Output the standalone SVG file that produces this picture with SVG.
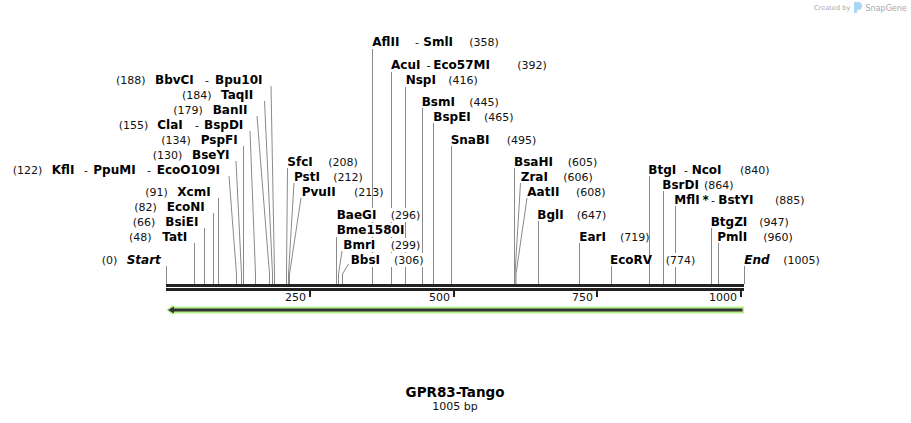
<svg xmlns="http://www.w3.org/2000/svg" width="911" height="423" viewBox="0 0 911 423">
<style>
.n{font-family:"DejaVu Sans",Verdana,sans-serif;font-size:11px;fill:#111}
.b{font-family:"DejaVu Sans",Verdana,sans-serif;font-size:12px;font-weight:bold;fill:#000}
.bi{font-family:"DejaVu Sans",Verdana,sans-serif;font-size:12px;font-weight:bold;font-style:italic;fill:#000}
.l{stroke:#8a8a8a;stroke-width:1;fill:none}
.bg{fill:#fff}
.wm{font-family:"DejaVu Sans",sans-serif;fill:#a8a8a8}
</style>
<rect width="911" height="423" fill="#fff"/>
<g id="watermark">
<text class="wm" x="814" y="9.5" font-size="6.6">Created by</text>
<path d="M854,2 h4 a4,4 0 0 1 4,4 v0 a4,4 0 0 1 -4,4 h-1 v3 h-3 z" fill="#a9d6f2"/>
<text class="wm" x="865.5" y="10.5" font-size="8">SnapGene</text>
</g>
<g id="connectors">
<line class="l" x1="166.5" y1="266" x2="166.5" y2="284"/>
<line class="l" x1="194.5" y1="243" x2="194.5" y2="284"/>
<line class="l" x1="204.5" y1="228" x2="204.5" y2="284"/>
<line class="l" x1="213.5" y1="213" x2="213.5" y2="284"/>
<line class="l" x1="218.5" y1="198" x2="218.5" y2="284"/>
<polyline class="l" points="229,176 236.5,274 236.5,284"/>
<polyline class="l" points="236,161 241.5,274 241.5,284"/>
<line class="l" x1="243.5" y1="146" x2="243.5" y2="284"/>
<polyline class="l" points="250,131 255.5,274 255.5,284"/>
<polyline class="l" points="257,116 269.5,274 269.5,284"/>
<polyline class="l" points="264.5,101 272.5,274 272.5,284"/>
<polyline class="l" points="271,86 274.5,274 274.5,284"/>
<polyline class="l" points="287.5,168 286.5,274 286.5,284"/>
<polyline class="l" points="294,183 288.5,274 288.5,284"/>
<polyline class="l" points="301,198 289.5,274 289.5,284"/>
<line class="l" x1="336.5" y1="236" x2="336.5" y2="284"/>
<polyline class="l" points="342,251 338.5,274 338.5,284"/>
<polyline class="l" points="348.5,264 342.5,274 342.5,284"/>
<line class="l" x1="372.5" y1="49" x2="372.5" y2="284"/>
<line class="l" x1="391.5" y1="72" x2="391.5" y2="284"/>
<line class="l" x1="405.5" y1="87" x2="405.5" y2="284"/>
<line class="l" x1="422.5" y1="108" x2="422.5" y2="284"/>
<line class="l" x1="433.5" y1="123" x2="433.5" y2="284"/>
<line class="l" x1="451.5" y1="146" x2="451.5" y2="284"/>
<line class="l" x1="514.5" y1="168" x2="514.5" y2="284"/>
<polyline class="l" points="520.5,183 515,274 515,284"/>
<polyline class="l" points="527,198 516,274 516,284"/>
<line class="l" x1="538.5" y1="221" x2="538.5" y2="284"/>
<line class="l" x1="579.5" y1="243" x2="579.5" y2="284"/>
<line class="l" x1="611.5" y1="266" x2="611.5" y2="284"/>
<line class="l" x1="649.5" y1="176" x2="649.5" y2="284"/>
<line class="l" x1="663.5" y1="191" x2="663.5" y2="284"/>
<line class="l" x1="675.5" y1="206" x2="675.5" y2="284"/>
<line class="l" x1="711.5" y1="228" x2="711.5" y2="284"/>
<line class="l" x1="718.5" y1="243" x2="718.5" y2="284"/>
<line class="l" x1="744.5" y1="266" x2="744.5" y2="284"/>
</g>
<g id="backbone">
<rect x="166" y="284" width="578" height="3" fill="#222"/>
<rect x="166" y="288" width="578" height="3" fill="#222"/>
<rect x="309" y="290" width="2" height="7" fill="#222"/>
<rect x="453" y="290" width="2" height="7" fill="#222"/>
<rect x="596" y="290" width="2" height="7" fill="#222"/>
<rect x="740" y="290" width="2" height="7" fill="#222"/>
<text class="n" x="306" y="301" text-anchor="end">250</text>
<text class="n" x="450" y="301" text-anchor="end">500</text>
<text class="n" x="593" y="301" text-anchor="end">750</text>
<text class="n" x="737" y="301" text-anchor="end">1000</text>
</g>
<g id="feature-arrow">
<polygon points="166.5,310 173,304.5 173,306.5 744,306.5 744,313.5 173,313.5 173,315.5" fill="#b6f08a"/>
<line x1="171" y1="310" x2="742.5" y2="310" stroke="#333" stroke-width="3"/>
<polygon points="168,310 174,306.5 174,313.5" fill="#333"/>
</g>
<g id="site-BbvCI"><text class="n" x="116" y="84">(188)</text><text class="b" x="155" y="84">BbvCI</text><text class="n" x="205" y="84">-</text><text class="b" x="215" y="84">Bpu10I</text></g>
<g id="site-TaqII"><text class="n" x="182" y="99">(184)</text><text class="b" x="221" y="99">TaqII</text></g>
<g id="site-BanII"><text class="n" x="173.3" y="114">(179)</text><text class="b" x="212.7" y="114">BanII</text></g>
<g id="site-ClaI"><text class="n" x="118.7" y="129">(155)</text><text class="b" x="157.3" y="129">ClaI</text><text class="n" x="195" y="129">-</text><text class="b" x="204" y="129">BspDI</text></g>
<g id="site-PspFI"><text class="n" x="161.3" y="144">(134)</text><text class="b" x="200.7" y="144">PspFI</text></g>
<g id="site-BseYI"><text class="n" x="152.7" y="159">(130)</text><text class="b" x="192" y="159">BseYI</text></g>
<g id="site-KflI"><text class="n" x="12.7" y="174">(122)</text><text class="b" x="51.7" y="174">KflI</text><text class="n" x="84" y="174">-</text><text class="b" x="93.3" y="174">PpuMI</text><text class="n" x="147" y="174">-</text><text class="b" x="156.7" y="174">EcoO109I</text></g>
<g id="site-XcmI"><text class="n" x="145.3" y="196">(91)</text><text class="b" x="177.3" y="196">XcmI</text></g>
<g id="site-EcoNI"><text class="n" x="134.3" y="211">(82)</text><text class="b" x="166.7" y="211">EcoNI</text></g>
<g id="site-BsiEI"><text class="n" x="132.7" y="226">(66)</text><text class="b" x="165.3" y="226">BsiEI</text></g>
<g id="site-TatI"><text class="n" x="129" y="241">(48)</text><text class="b" x="162.3" y="241">TatI</text></g>
<g id="site-Start"><text class="n" x="101.7" y="264">(0)</text><text class="bi" x="126.7" y="264">Start</text></g>
<g id="site-SfcI"><text class="b" x="287.3" y="166">SfcI</text><text class="n" x="328.3" y="166">(208)</text></g>
<g id="site-PstI"><text class="b" x="294" y="181">PstI</text><text class="n" x="333.3" y="181">(212)</text></g>
<g id="site-PvuII"><text class="b" x="301.7" y="196">PvuII</text><text class="n" x="354" y="196">(213)</text></g>
<g id="site-BaeGI"><rect class="bg" x="336" y="208" width="86" height="14"/><text class="b" x="336.7" y="219">BaeGI</text><text class="n" x="390.7" y="219">(296)</text></g>
<g id="site-Bme1580I"><rect class="bg" x="336" y="223" width="68" height="14"/><text class="b" x="336.7" y="234">Bme1580I</text></g>
<g id="site-BmrI"><rect class="bg" x="343" y="238" width="79" height="14"/><text class="b" x="343.3" y="249">BmrI</text><text class="n" x="390.7" y="249">(299)</text></g>
<g id="site-BbsI"><rect class="bg" x="350" y="253" width="75" height="14"/><text class="b" x="350.7" y="264">BbsI</text><text class="n" x="394" y="264">(306)</text></g>
<g id="site-AflII"><text class="b" x="372.3" y="46">AflII</text><text class="n" x="415" y="46">-</text><text class="b" x="423.3" y="46">SmlI</text><text class="n" x="469.3" y="46">(358)</text></g>
<g id="site-AcuI"><text class="b" x="391" y="69">AcuI</text><text class="n" x="426.5" y="69">-</text><text class="b" x="433.3" y="69">Eco57MI</text><text class="n" x="517.3" y="69">(392)</text></g>
<g id="site-NspI"><text class="b" x="405.7" y="84">NspI</text><text class="n" x="448.3" y="84">(416)</text></g>
<g id="site-BsmI"><text class="b" x="421.7" y="106">BsmI</text><text class="n" x="469.3" y="106">(445)</text></g>
<g id="site-BspEI"><text class="b" x="433.3" y="121">BspEI</text><text class="n" x="484" y="121">(465)</text></g>
<g id="site-SnaBI"><text class="b" x="450.7" y="144">SnaBI</text><text class="n" x="506.7" y="144">(495)</text></g>
<g id="site-BsaHI"><text class="b" x="514" y="166">BsaHI</text><text class="n" x="567.7" y="166">(605)</text></g>
<g id="site-ZraI"><text class="b" x="520.7" y="181">ZraI</text><text class="n" x="563.3" y="181">(606)</text></g>
<g id="site-AatII"><text class="b" x="527.3" y="196">AatII</text><text class="n" x="576" y="196">(608)</text></g>
<g id="site-BglI"><text class="b" x="537.3" y="219">BglI</text><text class="n" x="576.7" y="219">(647)</text></g>
<g id="site-EarI"><text class="b" x="579.3" y="241">EarI</text><text class="n" x="620" y="241">(719)</text></g>
<g id="site-EcoRV"><text class="b" x="610" y="264">EcoRV</text><rect class="bg" x="664" y="253" width="33" height="14"/><text class="n" x="665.7" y="264">(774)</text></g>
<g id="site-BtgI"><text class="b" x="648.3" y="174">BtgI</text><text class="n" x="684" y="174">-</text><text class="b" x="691.7" y="174">NcoI</text><text class="n" x="740" y="174">(840)</text></g>
<g id="site-BsrDI"><text class="b" x="662.3" y="189">BsrDI</text><text class="n" x="704" y="189">(864)</text></g>
<g id="site-MflI"><text class="b" x="674.3" y="204">MflI</text><text class="b" x="702.5" y="204">*</text><text class="n" x="711" y="204">-</text><text class="b" x="718.3" y="204">BstYI</text><text class="n" x="775" y="204">(885)</text></g>
<g id="site-BtgZI"><text class="b" x="710.7" y="226">BtgZI</text><text class="n" x="759.3" y="226">(947)</text></g>
<g id="site-PmlI"><text class="b" x="717.3" y="241">PmlI</text><text class="n" x="763.3" y="241">(960)</text></g>
<g id="site-End"><text class="bi" x="744.3" y="264">End</text><text class="n" x="783.3" y="264">(1005)</text></g>
<g id="title">
<text x="455" y="397" text-anchor="middle" font-family="DejaVu Sans, Verdana, sans-serif" font-size="13.5" font-weight="bold">GPR83-Tango</text>
<text x="455" y="410" text-anchor="middle" class="n">1005 bp</text>
</g>
</svg>
